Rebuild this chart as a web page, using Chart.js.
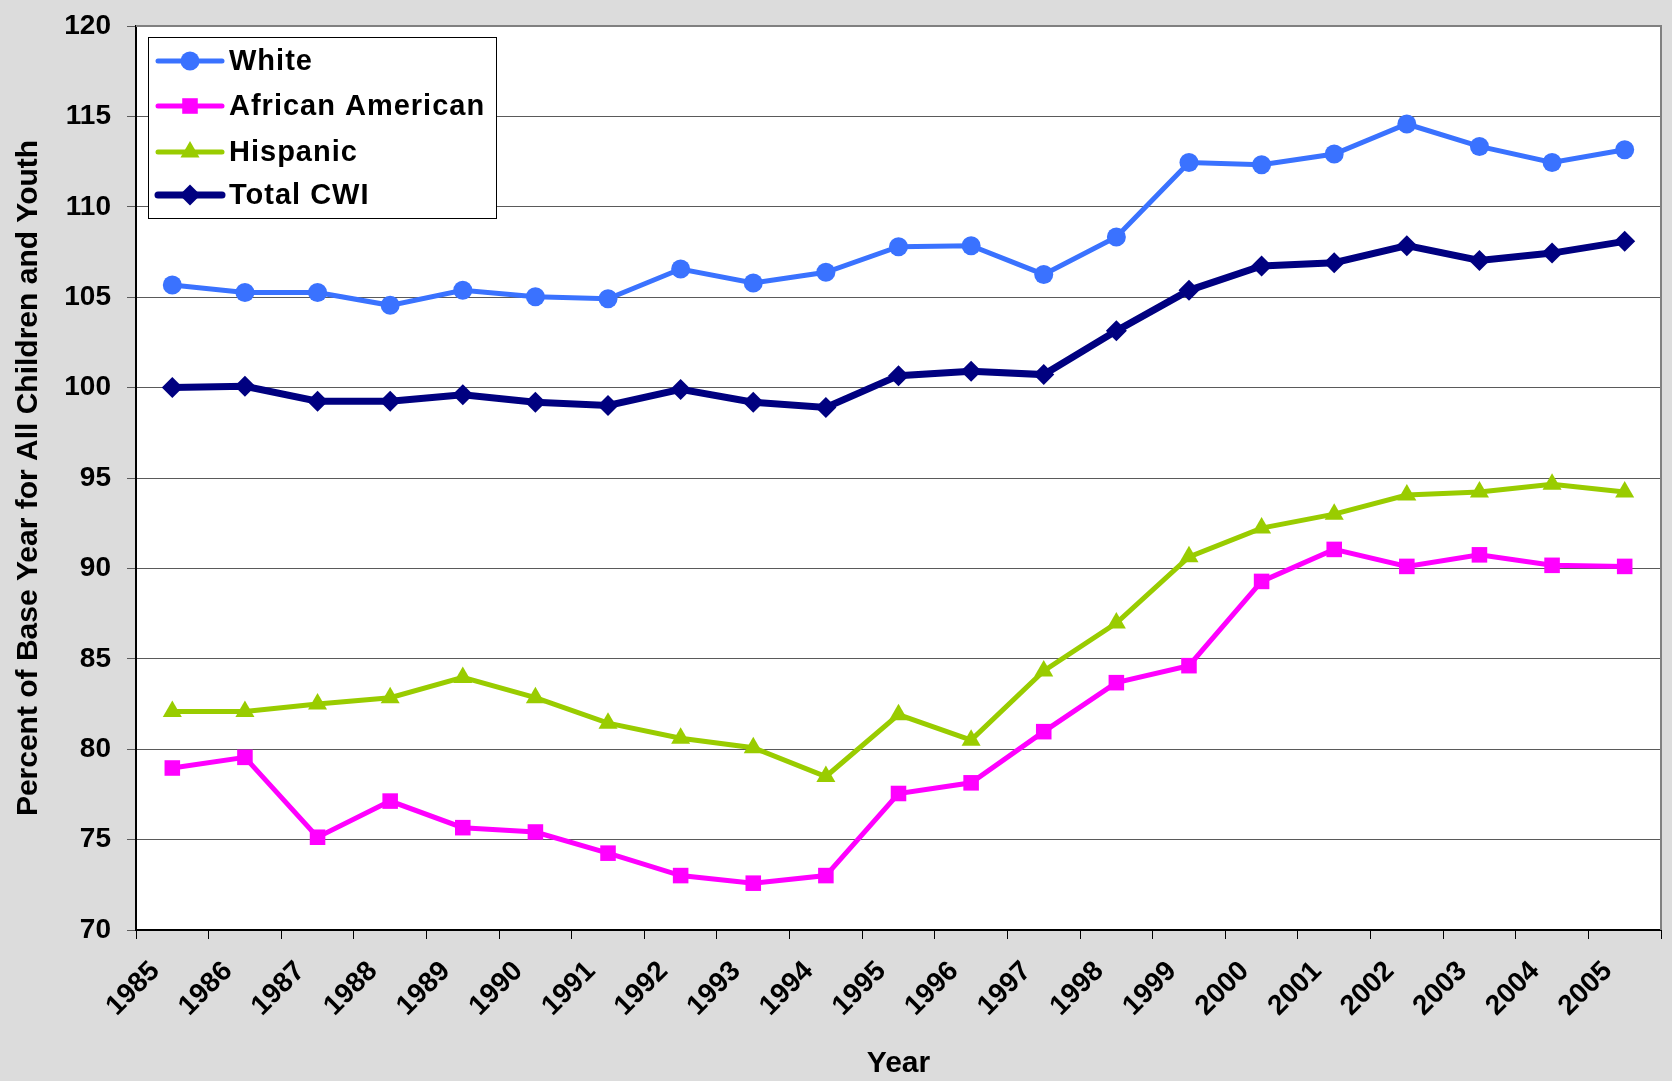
<!DOCTYPE html>
<html><head><meta charset="utf-8">
<script src="https://cdn.jsdelivr.net/npm/chart.js@4/dist/chart.umd.min.js"></script>
<style>html,body{margin:0;padding:0;background:#dcdcdc;overflow:hidden}</style>
</head><body>
<canvas id="c" width="1672" height="1081" style="width:1672px;height:1081px;display:block"></canvas>
<script>
const years = ['1985','1986','1987','1988','1989','1990','1991','1992','1993','1994','1995','1996','1997','1998','1999','2000','2001','2002','2003','2004','2005'];
const white = [105.67,105.26,105.26,104.55,105.38,105.02,104.91,106.56,105.79,106.38,107.79,107.85,106.26,108.33,112.45,112.33,112.92,114.58,113.34,112.45,113.16];
const africanAmerican = [78.96,79.55,75.13,77.13,75.66,75.42,74.25,73.01,72.59,73.01,77.55,78.14,80.97,83.68,84.62,89.28,91.05,90.11,90.75,90.17,90.11];
const hispanic = [82.09,82.09,82.5,82.85,83.97,82.85,81.44,80.61,80.08,78.49,81.91,80.5,84.33,86.98,90.64,92.23,93.0,94.06,94.23,94.65,94.23];
const totalCWI = [100.0,100.07,99.25,99.25,99.6,99.19,99.01,99.9,99.19,98.9,100.66,100.9,100.72,103.14,105.38,106.73,106.91,107.85,107.03,107.44,108.09];
const seriesNames = ['White','African American','Hispanic','Total CWI'];
const yMin = 70, yMax = 120, yStep = 5;
const xTitle = 'Year';
const yTitle = 'Percent of Base Year for All Children and Youth';

const FONT = "'Liberation Sans', Arial, sans-serif";

function drawMarker(ctx, style, r, x, y) {
  if (style === 'circle') { ctx.arc(x, y, r, 0, Math.PI * 2); }
  else if (style === 'rect') { const s = Math.SQRT1_2 * r; ctx.rect(x - s, y - s, 2 * s, 2 * s); }
  else if (style === 'triangle') {
    ctx.moveTo(x, y - r);
    ctx.lineTo(x + r * Math.sin(Math.PI / 3), y + r * 0.5);
    ctx.lineTo(x - r * Math.sin(Math.PI / 3), y + r * 0.5);
    ctx.closePath();
  } else if (style === 'rectRot') {
    ctx.moveTo(x, y - r); ctx.lineTo(x + r, y); ctx.lineTo(x, y + r); ctx.lineTo(x - r, y); ctx.closePath();
  }
}

const bgPlugin = {
  id: 'bg',
  beforeDraw(chart) {
    const {ctx, chartArea: a} = chart;
    ctx.save();
    ctx.fillStyle = '#dcdcdc';
    ctx.fillRect(0, 0, chart.width, chart.height);
    ctx.fillStyle = '#ffffff';
    ctx.fillRect(a.left, a.top, a.right - a.left, a.bottom - a.top);
    ctx.restore();
  },
  afterDraw(chart) {
    const {ctx, chartArea: a} = chart;
    ctx.save();
    ctx.strokeStyle = '#808080';
    ctx.lineWidth = 2;
    ctx.beginPath();
    ctx.moveTo(a.left, a.top);
    ctx.lineTo(a.right, a.top);
    ctx.lineTo(a.right, a.bottom);
    ctx.stroke();
    // legend box
    const bx = 148, by = 37, bw = 348, bh = 181;
    ctx.fillStyle = '#ffffff';
    ctx.fillRect(bx, by, bw, bh);
    ctx.strokeStyle = '#000000';
    ctx.lineWidth = 1;
    ctx.strokeRect(bx + 0.5, by + 0.5, bw, bh);
    const rows = [61, 106, 152, 195];
    chart.data.datasets.forEach((ds, i) => {
      const y = rows[i];
      ctx.strokeStyle = ds.borderColor;
      ctx.lineWidth = ds.borderWidth;
      ctx.lineCap = 'round';
      ctx.beginPath();
      ctx.moveTo(158, y);
      ctx.lineTo(222, y);
      ctx.stroke();
      ctx.fillStyle = ds.backgroundColor;
      ctx.beginPath();
      drawMarker(ctx, ds.pointStyle, ds.pointRadius, 190, y);
      ctx.fill();
      ctx.fillStyle = '#000';
      ctx.font = "bold 29px " + FONT;
      ctx.textBaseline = 'middle';
      ctx.textAlign = 'left';
      try { ctx.letterSpacing = '1px'; } catch (e) {}
      ctx.fillText(ds.label, 229, y + 1);
      try { ctx.letterSpacing = '0px'; } catch (e) {}
    });
    ctx.restore();
  }
};

function ds(label, data, color, style, radius, width) {
  return {
    label, data, borderColor: color, backgroundColor: color,
    pointBackgroundColor: color, pointBorderColor: color, pointBorderWidth: 0,
    pointStyle: style, pointRadius: radius, pointHoverRadius: radius,
    borderWidth: width, tension: 0, fill: false
  };
}

new Chart(document.getElementById('c'), {
  type: 'line',
  data: {
    labels: years,
    datasets: [
      ds(seriesNames[0], white, '#3a72ff', 'circle', 9.5, 5),
      ds(seriesNames[1], africanAmerican, '#ff00ff', 'rect', 11, 5),
      ds(seriesNames[2], hispanic, '#99cc00', 'triangle', 11, 5),
      ds(seriesNames[3], totalCWI, '#000080', 'rectRot', 10.5, 7)
    ]
  },
  options: {
    responsive: false,
    animation: false,
    devicePixelRatio: 1,
    layout: { padding: { top: 26, right: 11, left: 0, bottom: 0 } },
    plugins: { legend: { display: false }, tooltip: { enabled: false } },
    scales: {
      x: {
        type: 'category',
        offset: true,
        grid: { display: true, drawOnChartArea: false, drawTicks: true, tickLength: 9, color: '#000', offset: true },
        border: { display: true, color: '#000', width: 2 },
        ticks: { color: '#000', font: { family: FONT, size: 28, weight: 'bold' }, minRotation: 45, maxRotation: 45, padding: 16, labelOffset: -17, autoSkip: false },
        title: { display: true, text: xTitle, color: '#000', font: { family: FONT, size: 30, weight: 'bold' }, padding: { top: 0, bottom: -1 } },
        afterFit(scale) { scale.height = 151; }
      },
      y: {
        min: yMin, max: yMax,
        ticks: { stepSize: yStep, color: '#000', font: { family: FONT, size: 28, weight: 'bold' }, padding: 16 },
        grid: { color: '#5a5a5a', lineWidth: 1, tickLength: 9, drawTicks: true },
        border: { display: true, color: '#000', width: 2 },
        title: { display: true, text: yTitle, color: '#000', font: { family: FONT, size: 30, weight: 'bold' }, padding: { top: 11, bottom: 0 } },
        afterFit(scale) { scale.width = 136; scale.paddingTop = 10; scale.paddingBottom = 10; }
      }
    }
  },
  plugins: [bgPlugin]
});
</script>
</body></html>
